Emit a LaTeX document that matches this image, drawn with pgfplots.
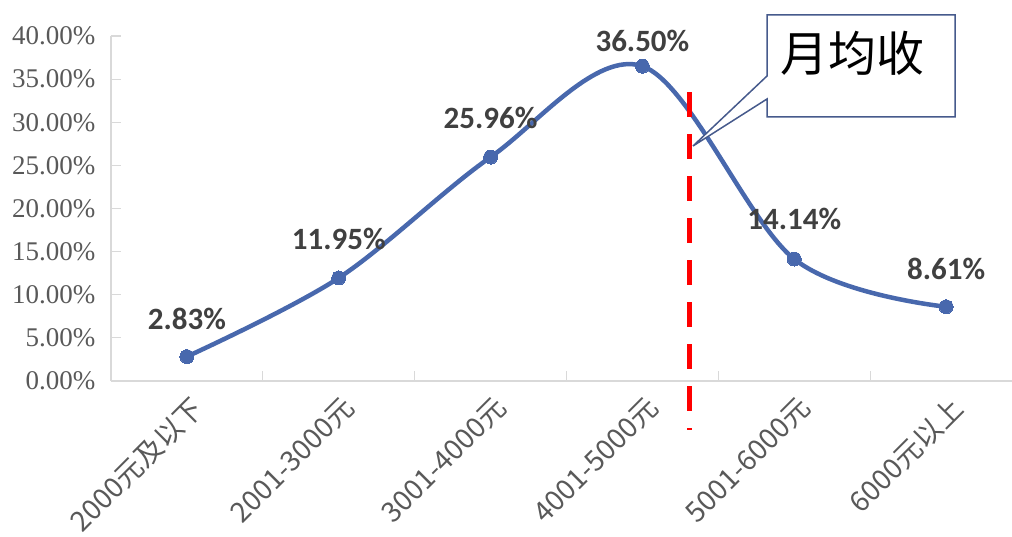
\documentclass[border=0pt]{standalone}
\usepackage{pgfplots}
\pgfplotsset{compat=1.18}
\usepackage{pgfplotstable}
\usepackage{fontspec}
\setmainfont{Liberation Serif}
\newfontfamily\cjk{Noto Sans CJK SC}
\newfontfamily\lab{Carlito}
\definecolor{linec}{RGB}{72,104,173}
\definecolor{axc}{RGB}{217,217,217}
\definecolor{tickc}{RGB}{89,89,89}
\definecolor{labc}{RGB}{64,64,64}
\definecolor{boxc}{RGB}{70,90,140}
\pgfplotstableread{
x y dy
0 2.83 38
1 11.95 39
2 25.96 39
3 36.50 25
4 14.14 40
5 8.61 38
}\datatab
\pgfplotstableread{
x y
3.307 33.5
3.307 -5.68
}\reddash
\begin{document}
\begin{tikzpicture}[x=1pt,y=1pt]
\begin{axis}[
  at={(0,0)}, anchor=south west,
  scale only axis, width=911pt, height=345pt,
  xmin=-0.5, xmax=5.5, ymin=0, ymax=40,
  clip=false,
  axis x line*=bottom, axis y line*=left,
  axis line style={draw=axc, line width=1.5pt, -},
  ytick={0,5,...,40},
  yticklabel={\pgfmathprintnumber[fixed,fixed zerofill,precision=2]{\tick}\%},
  /pgf/number format/assume math mode=true,
  yticklabel style={font=\fontsize{27}{27}\selectfont, text=tickc, anchor=east, xshift=-12pt},
  ytick style={draw=axc, line width=1.2pt},
  major tick length=10pt, minor tick length=10pt,
  tick align=inside,
  xtick={0,1,2,3,4,5},
  xticklabels={2000元及以下,2001-3000元,3001-4000元,4001-5000元,5001-6000元,6000元以上},
  xticklabel style={font=\cjk\fontsize{28}{28}\selectfont, text=tickc, rotate=45, anchor=north east, yshift=-8pt, xshift=-4pt},
  major x tick style={draw=none},
  minor xtick={0.5,1.5,2.5,3.5,4.5},
  minor x tick style={draw=axc, line width=1.2pt},
]
\addplot[linec, line width=4.5pt, smooth, tension=0.55, mark=*, mark size=7pt, mark options={fill=linec, draw=linec, line width=0pt},
  point meta=explicit symbolic,
  visualization depends on={\thisrow{dy} \as \dy},
  nodes near coords={\pgfplotspointmeta\%},
  nodes near coords style={font=\lab\bfseries\fontsize{31}{31}\selectfont, text=labc, anchor=center, yshift=\dy pt}
] table[x=x, y=y, meta=y] {\datatab};
\addplot[red, line width=5pt, dash pattern=on 25pt off 17pt] table[x=x,y=y] {\reddash};
\end{axis}
\draw[draw=boxc, line width=1.5pt, fill=white] (656,366) -- (844,366) -- (844,264) -- (656,264) -- (656,282) -- (582,235) -- (656,305) -- cycle;
\node[font=\cjk\fontsize{48}{48}\selectfont, text=black] at (741,328) {月均收};
\pgfresetboundingbox
\useasboundingbox (-111,-155) rectangle (901,381);
\end{tikzpicture}
\end{document}
